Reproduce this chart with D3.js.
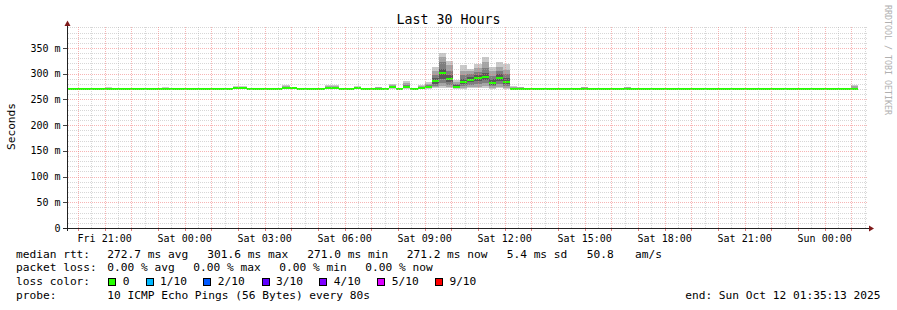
<!DOCTYPE html>
<html><head><meta charset="utf-8">
<script src="https://cdn.jsdelivr.net/npm/d3@7"></script>
<style>
html,body{margin:0;padding:0;background:#fff;}
svg{display:block;}
text{font-family:"DejaVu Sans Mono",monospace;fill:#000;}
</style></head><body>
<svg id="c" width="897" height="310"></svg>
<script>
// ---------------- data ----------------
const title = "Last 30 Hours";
const yAxisLabel = "Seconds";
const watermark = "RRDTOOL / TOBI OETIKER";
const chartStart = "2025-10-10T19:35:13";
const chartEnd   = "2025-10-12T01:35:13";
const firstBinStart = "2025-10-10T19:24:00";
const binMinutes = 16;

const yTickValues = [0, 50, 100, 150, 200, 250, 300, 350];
const yTickLabels = ["0", "50 m", "100 m", "150 m", "200 m", "250 m", "300 m", "350 m"];

// median rtt per 16-minute bin (ms)
const medianRtt = [
  271.1, 271.0, 271.0, 271.1, 271.0, 271.0, 271.2, 271.0, 271.0, 271.0,
  271.0, 271.0, 271.0, 271.0, 271.2, 271.0, 271.0, 271.0, 271.0, 271.0,
  271.0, 271.0, 271.0, 271.0, 271.3, 272.0, 271.0, 271.0, 271.0, 271.0,
  271.0, 271.4, 272.0, 271.0, 271.0, 271.0, 271.0, 272.5, 272.5, 271.0,
  271.0, 273.0, 271.0, 271.0, 271.2, 271.0, 274.0, 271.0, 275.0, 271.0,
  272.5, 274.0, 285.2, 301.6, 289.7, 274.8, 283.8, 288.3, 291.5, 293.4,
  281.9, 291.5, 283.9, 271.2, 271.1, 271.0, 271.0, 271.0, 271.0, 271.0,
  271.0, 271.0, 271.0, 271.1, 271.0, 271.0, 271.0, 271.0, 271.0, 271.1,
  271.0, 271.0, 271.0, 271.0, 271.0, 271.0, 271.0, 271.0, 271.0, 271.0,
  271.0, 271.0, 271.0, 271.0, 271.0, 271.0, 271.0, 271.0, 271.0, 271.0,
  271.0, 271.0, 271.0, 271.0, 271.0, 271.0, 271.0, 271.0, 271.0, 271.0,
  271.0, 271.2
];

// bins where the smoke is visible, and their 10 sorted ping rtts (ms)
const smokeBins = [6, 14, 24, 25, 31, 32, 37, 38, 41, 44, 46, 48, 50, 51,
                   52, 53, 54, 55, 56, 57, 58, 59, 60, 61, 62, 63, 64, 73, 79, 111];
const smokePings = [
  [270.6, 270.8, 271.0, 271.0, 271.1, 271.2, 271.4, 271.8, 272.6, 274.0],
  [270.6, 270.8, 271.0, 271.0, 271.1, 271.2, 271.4, 271.8, 272.6, 274.0],
  [270.7, 270.9, 271.0, 271.1, 271.2, 271.4, 271.8, 272.5, 274.0, 276.0],
  [270.8, 271.0, 271.3, 271.6, 271.9, 272.2, 272.8, 273.6, 274.8, 276.0],
  [270.7, 270.9, 271.0, 271.2, 271.3, 271.5, 272.2, 273.5, 276.0, 279.0],
  [270.8, 271.0, 271.3, 271.6, 271.9, 272.1, 272.6, 273.2, 274.0, 275.0],
  [270.9, 271.2, 271.6, 272.0, 272.4, 272.6, 273.4, 274.6, 276.6, 279.0],
  [270.9, 271.2, 271.6, 272.0, 272.4, 272.7, 273.5, 274.8, 276.8, 279.0],
  [271.0, 271.5, 272.0, 272.5, 272.9, 273.1, 273.6, 274.2, 275.0, 276.0],
  [270.7, 270.9, 271.0, 271.1, 271.2, 271.3, 271.6, 272.2, 273.2, 274.5],
  [271.0, 271.6, 272.4, 273.2, 273.9, 274.1, 275.0, 276.2, 277.6, 279.5],
  [271.0, 271.8, 272.8, 273.8, 274.8, 275.2, 276.8, 279.0, 282.0, 286.0],
  [270.8, 271.2, 271.6, 272.0, 272.4, 272.6, 273.4, 274.6, 276.6, 279.0],
  [271.0, 271.6, 272.4, 273.2, 273.9, 274.1, 275.6, 277.6, 280.0, 283.0],
  [271.5, 273.5, 276.5, 280.0, 283.5, 287.0, 292.0, 298.0, 305.0, 313.0],
  [272.0, 276.0, 282.5, 290.0, 299.5, 303.7, 310.0, 322.0, 332.0, 340.0],
  [271.5, 274.5, 279.0, 284.0, 288.0, 291.4, 297.0, 306.0, 316.0, 325.0],
  [271.0, 271.5, 272.3, 273.3, 274.3, 275.3, 277.5, 280.5, 284.0, 288.0],
  [271.2, 273.0, 276.0, 279.5, 282.5, 285.1, 290.5, 297.5, 306.0, 316.0],
  [271.5, 274.5, 279.0, 283.5, 287.0, 289.6, 294.0, 299.0, 305.0, 310.0],
  [271.5, 275.0, 280.5, 286.0, 290.0, 293.0, 298.0, 304.0, 311.0, 318.0],
  [272.0, 276.0, 282.0, 287.5, 292.0, 294.8, 302.0, 311.0, 322.0, 333.0],
  [271.2, 273.0, 275.5, 278.5, 280.5, 283.3, 289.0, 296.0, 305.0, 314.0],
  [271.5, 275.0, 280.5, 286.0, 290.0, 293.0, 299.0, 306.0, 314.0, 323.0],
  [271.2, 273.0, 276.0, 279.5, 282.5, 285.3, 291.0, 299.0, 308.0, 318.0],
  [270.6, 270.8, 271.0, 271.1, 271.2, 271.3, 271.6, 272.4, 273.8, 276.0],
  [270.6, 270.8, 271.0, 271.0, 271.1, 271.2, 271.4, 272.0, 273.2, 275.0],
  [270.6, 270.8, 271.0, 271.0, 271.1, 271.2, 271.4, 272.0, 273.4, 275.0],
  [270.6, 270.8, 271.0, 271.0, 271.1, 271.2, 271.4, 272.0, 273.4, 275.0],
  [270.7, 270.9, 271.0, 271.1, 271.2, 271.3, 271.8, 273.0, 276.0, 279.0]
];

// legend
const rttStatValues = [272.7, 301.6, 271.0, 271.2];
const rttStatNames  = ["avg", "max", "min", "now"];
const rttSd = 5.4;
const rttAmPerS = 50.8;
const lossStatValues = [0.00, 0.00, 0.00, 0.00];
const lossStatNames  = ["avg", "max", "min", "now"];
const lossLabels = ["0", "1/10", "2/10", "3/10", "4/10", "5/10", "9/10"];
const lossColors = ["#26ff00", "#00b8ff", "#0059ff", "#5e00ff", "#7e00ff", "#dd00ff", "#ff0000"];
const probeText = "10 ICMP Echo Pings (56 Bytes) every 80s";
const endText = "end: Sun Oct 12 01:35:13 2025";
const smokeColors = ["#cacaca", "#a4a4a4", "#7e7e7e", "#585858", "#323232"];

// ---------------- layout ----------------
const svg = d3.select("#c");
const parse = d3.utcParse("%Y-%m-%dT%H:%M:%S");
const t0 = parse(chartStart), t1 = parse(chartEnd);
const PL = 67, PR = 867, PB = 228, PT = 27;
const x = d3.scaleUtc().domain([t0, t1]).range([PL, PR]);
const y = d3.scaleLinear().domain([0, (PB - PT) * 350 / 180]).range([PB, PT]);

const binStart0 = parse(firstBinStart);
const bins = medianRtt.map((m, i) => {
  const s = d3.utcMinute.offset(binStart0, i * binMinutes);
  const e = d3.utcMinute.offset(binStart0, (i + 1) * binMinutes);
  return {s, e, m, x0: Math.max(PL, Math.round(x(s))), x1: Math.min(PR, Math.round(x(e)))};
});

const gData = svg.append("g").attr("shape-rendering", "crispEdges");

// smoke
smokeBins.forEach((bi, k) => {
  const b = bins[bi];
  const p = smokePings[k];
  for (let band = 0; band < 5; band++) {
    const lo = p[band], hi = p[9 - band];
    const yt = Math.round(y(hi)), yb = Math.round(y(lo));
    if (yb - yt <= 0) continue;
    gData.append("rect").attr("x", b.x0).attr("width", b.x1 - b.x0)
      .attr("y", yt).attr("height", yb - yt).attr("fill", smokeColors[band]);
  }
});

// median (loss colour 0)
gData.selectAll("rect.med").data(bins).enter().append("rect").attr("class", "med")
  .attr("x", d => d.x0).attr("width", d => d.x1 - d.x0)
  .attr("y", d => Math.round(y(d.m)) - 1).attr("height", 2)
  .attr("fill", lossColors[0]);

// grid (drawn over data, as rrdtool does)
const gGrid = svg.append("g").attr("shape-rendering", "crispEdges");
const minorColor = "rgba(175,175,175,0.5)";
const majorColor = "rgba(240,120,120,0.55)";
const yMinor = d3.range(10, y.domain()[1], 10).filter(v => v % 50 !== 0);
const yMajor = yTickValues.filter(v => v > 0);
gGrid.selectAll("line.ymin").data(yMinor).enter().append("line")
  .attr("x1", PL + 1).attr("x2", PR).attr("y1", d => Math.round(y(d)) + 0.5).attr("y2", d => Math.round(y(d)) + 0.5)
  .attr("stroke", minorColor).attr("stroke-dasharray", "1,1");
const halfHours = d3.utcMinute.every(30).range(t0, t1).filter(t => t.getUTCMinutes() === 30);
const hours = d3.utcHour.every(1).range(t0, t1);
gGrid.selectAll("line.xmin").data(halfHours).enter().append("line")
  .attr("x1", d => Math.round(x(d)) + 0.5).attr("x2", d => Math.round(x(d)) + 0.5)
  .attr("y1", PT).attr("y2", PB)
  .attr("stroke", minorColor).attr("stroke-dasharray", "1,1");
gGrid.selectAll("line.ymaj").data(yMajor).enter().append("line")
  .attr("x1", PL + 1).attr("x2", PR).attr("y1", d => Math.round(y(d)) + 0.5).attr("y2", d => Math.round(y(d)) + 0.5)
  .attr("stroke", majorColor).attr("stroke-dasharray", "1,1");
gGrid.selectAll("line.xmaj").data(hours).enter().append("line")
  .attr("x1", d => Math.round(x(d)) + 0.5).attr("x2", d => Math.round(x(d)) + 0.5)
  .attr("y1", PT).attr("y2", PB)
  .attr("stroke", majorColor).attr("stroke-dasharray", "1,1");
// hour ticks below axis
gGrid.selectAll("line.xt").data(hours).enter().append("line")
  .attr("x1", d => Math.round(x(d)) + 0.5).attr("x2", d => Math.round(x(d)) + 0.5)
  .attr("y1", PB + 1).attr("y2", PB + 3)
  .attr("stroke", "rgba(220,90,90,0.8)");
// y ticks left of axis
gGrid.selectAll("line.yt").data(yTickValues).enter().append("line")
  .attr("x1", PL - 4).attr("x2", PL).attr("y1", d => Math.round(y(d)) + 0.5).attr("y2", d => Math.round(y(d)) + 0.5)
  .attr("stroke", "#444");

// axes
const axisColor = "#222", arrowColor = "#7f1a1a";
gGrid.append("line").attr("x1", PL - 4).attr("x2", 870).attr("y1", PB + 0.5).attr("y2", PB + 0.5).attr("stroke", axisColor);
gGrid.append("line").attr("x1", PL + 0.5).attr("x2", PL + 0.5).attr("y1", PB + 3).attr("y2", 24).attr("stroke", axisColor);
svg.append("path").attr("d", `M869,225.5L874,228.5L869,231.5Z`).attr("fill", arrowColor);
svg.append("path").attr("d", `M64.5,26L67.5,20.5L70.5,26Z`).attr("fill", arrowColor);

// tick labels
svg.selectAll("text.yl").data(yTickValues).enter().append("text")
  .attr("x", 60.5).attr("y", d => y(d) + 3.6).attr("text-anchor", "end")
  .attr("font-size", "10px").text((d, i) => yTickLabels[i]);
const xLabelTimes = d3.utcHour.every(3).range(t0, t1);
const fmt = d3.utcFormat("%a %H:%M");
svg.selectAll("text.xl").data(xLabelTimes).enter().append("text")
  .attr("x", d => x(d)).attr("y", 242).attr("text-anchor", "middle")
  .attr("font-size", "10px").text(d => fmt(d));

// title / axis label / watermark
svg.append("text").attr("x", 448.5).attr("y", 24).attr("text-anchor", "middle")
  .attr("font-size", "13.3px").text(title);
svg.append("text").attr("transform", "translate(15,126.5) rotate(-90)").attr("text-anchor", "middle")
  .attr("font-size", "11.2px").text(yAxisLabel);
svg.append("text").attr("transform", "translate(885,5) rotate(90)")
  .attr("font-size", "8.3px").style("fill", "#b0b0b0").text(watermark);

// legend
const LF = "11.2px";
const leg = svg.append("g").attr("font-size", LF);
const row = (yy, items) => items.forEach(([xx, s]) => leg.append("text").attr("x", xx).attr("y", yy).text(s));
const rttX = [107.3, 207.3, 307.3, 406.7];
row(257.5, [[16, "median rtt:"]].concat(rttStatValues.map((v, i) => [rttX[i], `${v.toFixed(1)} ms ${rttStatNames[i]}`]))
  .concat([[506.7, `${rttSd.toFixed(1)} ms sd`], [586.7, `${rttAmPerS.toFixed(1)}`], [635, "am/s"]]));
const lossX = [107.3, 193.3, 279.3, 365.3];
row(271.3, [[16, "packet loss:"]].concat(lossStatValues.map((v, i) => [lossX[i], `${v.toFixed(2)} % ${lossStatNames[i]}`])));
row(285, [[16, "loss color:"]]);
const boxX = [108.3, 145.7, 203.3, 261.7, 319.3, 377.3, 435];
lossLabels.forEach((l, i) => {
  leg.append("rect").attr("x", Math.round(boxX[i]) + 0.5).attr("y", 278.5).attr("width", 7).attr("height", 7)
    .attr("fill", lossColors[i]).attr("stroke", "#000").attr("shape-rendering", "crispEdges");
  leg.append("text").attr("x", boxX[i] + 14.4).attr("y", 285).text(l);
});
row(299, [[16, "probe:"], [107.3, probeText]]);
leg.append("text").attr("x", 880.5).attr("y", 299).attr("text-anchor", "end").text(endText);
</script>
</body></html>
